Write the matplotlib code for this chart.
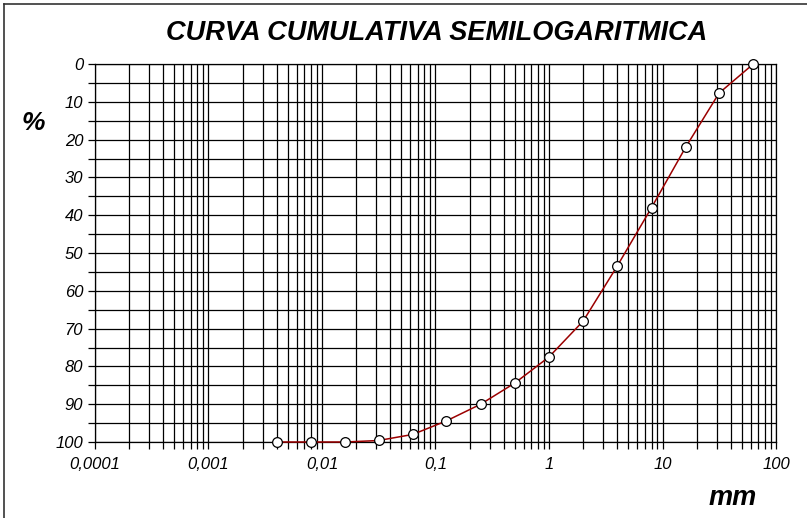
import matplotlib.pyplot as plt
import numpy as np
from matplotlib.lines import Line2D
from matplotlib.ticker import FixedLocator, NullFormatter

plt.rcParams["font.family"] = ["Liberation Sans", "DejaVu Sans"]
plt.rcParams["font.style"] = "italic"

# sieve sizes (mm) and cumulative percent (0 at top)
sizes = [0.004, 0.008, 0.016, 0.0315, 0.063, 0.125, 0.25, 0.5, 1, 2, 4, 8, 16, 31.5, 63]
percent = [100, 100, 100, 99.6, 98, 94.4, 90, 84.4, 77.5, 68, 53.4, 38, 22, 7.7, 0]

x_ticks = [0.0001, 0.001, 0.01, 0.1, 1, 10, 100]
x_labels = ["0,0001", "0,001", "0,01", "0,1", "1", "10", "100"]
y_ticks = [0, 10, 20, 30, 40, 50, 60, 70, 80, 90, 100]

fig = plt.figure(figsize=(8.07, 5.18), dpi=100)
ax = fig.add_axes([0.1177, 0.1467, 0.8439, 0.7297])

ax.set_xscale("log")
ax.set_xlim(0.0001, 100)
ax.set_ylim(100, 0)

# grid: every log minor step and every 5 %
minors = [m * 10.0**e for e in range(-4, 2) for m in range(2, 10)]
ax.xaxis.set_major_locator(FixedLocator(x_ticks))
ax.xaxis.set_minor_locator(FixedLocator(minors))
ax.xaxis.set_minor_formatter(NullFormatter())
ax.set_xticklabels(x_labels, fontstyle="italic")
ax.set_yticks(y_ticks, labels=[str(v) for v in y_ticks], fontstyle="italic")
ax.yaxis.set_minor_locator(FixedLocator(np.arange(5, 100, 10)))

ax.grid(True, which="both", color="black", linewidth=0.9)
for s in ax.spines.values():
    s.set_color("black")
    s.set_linewidth(0.9)
ax.tick_params(which="both", length=5, width=0.9, color="black", labelsize=12)
ax.tick_params(axis="x", pad=6)
ax.tick_params(axis="y", pad=3.5)

ax.plot(sizes, percent, color="#9b0000", linewidth=1.1, marker="o",
        markersize=7, markerfacecolor="white", markeredgecolor="black",
        markeredgewidth=0.9, zorder=5, clip_on=False)

fig.text(0.5415, 0.936, "CURVA CUMULATIVA SEMILOGARITMICA", ha="center", va="center",
         fontsize=19.5, fontweight="bold", fontstyle="italic")
fig.text(0.0415, 0.763, "%", ha="center", va="center",
         fontsize=19, fontweight="bold", fontstyle="italic")
fig.text(0.908, 0.038, "mm", ha="center", va="center",
         fontsize=19.5, fontweight="bold", fontstyle="italic")

# box edges (top and left) of the framed picture
fig.add_artist(Line2D([0.005, 1.0], [0.992, 0.992], transform=fig.transFigure,
                      color="#333333", linewidth=1.2))
fig.add_artist(Line2D([0.005, 0.005], [0.0, 0.992], transform=fig.transFigure,
                      color="#333333", linewidth=1.2))

fig.savefig("out.png", dpi=100)
